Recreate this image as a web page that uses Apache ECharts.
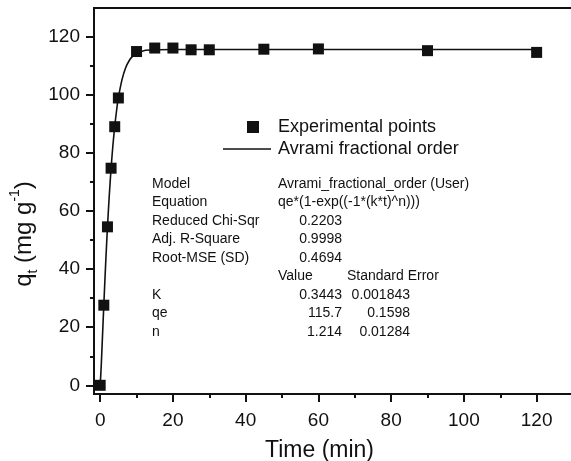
<!DOCTYPE html>
<html>
<head>
<meta charset="utf-8">
<script src="https://cdn.jsdelivr.net/npm/echarts@6/dist/echarts.min.js"></script>
<style>
  html, body { margin: 0; padding: 0; background: #fff; }
  #chart { width: 571px; height: 461px; }
</style>
</head>
<body>
<div id="chart"></div>
<script>
// experimental points
var timeData = [0, 1, 2, 3, 4, 5, 10, 15, 20, 25, 30, 45, 60, 90, 120];
var qtData = [0, 27.6, 54.6, 74.8, 89.1, 99.0, 115.0, 116.2, 116.2, 115.6, 115.6, 115.8, 115.9, 115.3, 114.7];

// fitted curve
var fitTime = [0, 0.25, 0.5, 1, 1.5, 2, 2.5, 3, 3.5, 4, 4.5, 5, 6, 7, 8, 9, 10, 12, 15, 20, 30, 60, 90, 120];
var fitQt = [0, 5.7, 12.9, 27.7, 41.8, 54.4, 65.4, 74.8, 82.7, 89.2, 94.6, 99.0, 105.3, 109.4, 111.9, 113.5, 114.4, 115.3, 115.6, 115.7, 115.7, 115.7, 115.7, 115.7];

var xMajor = [0, 20, 40, 60, 80, 100, 120];
var xMinor = [10, 30, 50, 70, 90, 110];
var yMajor = [0, 20, 40, 60, 80, 100, 120];
var yMinor = [10, 30, 50, 70, 90, 110];

// fit report
var statNames = ['Model', 'Equation', 'Reduced Chi-Sqr', 'Adj. R-Square', 'Root-MSE (SD)', '', 'K', 'qe', 'n'];
var statText = ['Avrami_fractional_order (User)', 'qe*(1-exp((-1*(k*t)^n)))', '', '', '', 'Value', '', '', ''];
var statValues = ['', '', '0.2203', '0.9998', '0.4694', '', '0.3443', '115.7', '1.214'];
var statErrors = ['', '', '', '', '', 'Standard Error', '0.001843', '0.1598', '0.01284'];

var font = 'Liberation Sans, Arial, sans-serif';
var ink = '#111';

var fitPoints = fitTime.map(function (t, i) { return [t, fitQt[i]]; });
var expPoints = timeData.map(function (t, i) { return [t, qtData[i]]; });

var graphics = [];
var rowTop = 184, rowStep = 18.5;
for (var i = 0; i < statNames.length; i++) {
  var y = rowTop + i * rowStep;
  var base = { fontSize: 14, fontFamily: font, fill: ink, verticalAlign: 'middle' };
  if (statNames[i]) graphics.push({ type: 'text', x: 152, y: y, style: Object.assign({ text: statNames[i], align: 'left' }, base) });
  if (statText[i]) graphics.push({ type: 'text', x: 278, y: y, style: Object.assign({ text: statText[i], align: 'left' }, base) });
  if (statValues[i]) graphics.push({ type: 'text', x: 342, y: y, style: Object.assign({ text: statValues[i], align: 'right' }, base) });
  if (statErrors[i]) {
    var left = statErrors[i] === 'Standard Error';
    graphics.push({ type: 'text', x: left ? 347 : 410, y: y, style: Object.assign({ text: statErrors[i], align: left ? 'left' : 'right' }, base) });
  }
}
// y axis title
graphics.push({
  type: 'text', x: 24, y: 234, rotation: Math.PI / 2,
  style: {
    text: '{a|q}{s|t}{a| (mg g}{p|-1}{a|)}',
    align: 'center', verticalAlign: 'middle',
    rich: {
      a: { fontSize: 24, fontFamily: font, fill: ink, lineHeight: 32 },
      s: { fontSize: 14, fontFamily: font, fill: ink, lineHeight: 32, verticalAlign: 'bottom' },
      p: { fontSize: 14, fontFamily: font, fill: ink, lineHeight: 32, verticalAlign: 'top' }
    }
  }
});

var chart = echarts.init(document.getElementById('chart'));
chart.setOption({
  animation: false,
  backgroundColor: '#fff',
  textStyle: { fontFamily: font, color: ink },
  grid: {
    left: 94, top: 8, right: -2, bottom: 67,
    outerBoundsMode: 'none', containLabel: false,
    show: true, borderColor: ink, borderWidth: 2
  },
  legend: [{
    data: [{ name: 'Experimental points', icon: 'rect' }],
    left: 242, top: 113, itemWidth: 12, itemHeight: 12,
    textStyle: { fontSize: 18, fontFamily: font, color: ink, padding: [0, 0, 0, 14] }
  }, {
    data: [{ name: 'Avrami fractional order', icon: 'rect' }],
    left: 218, top: 135, itemWidth: 48, itemHeight: 1.6,
    textStyle: { fontSize: 18, fontFamily: font, color: ink, padding: [0, 0, 0, 2] }
  }],
  xAxis: [{
    type: 'value', min: -1.7, max: 130,
    name: 'Time (min)', nameLocation: 'middle', nameGap: 45,
    nameTextStyle: { fontSize: 23, fontFamily: font, color: ink, padding: [0, 28, 0, 0] },
    axisLine: { onZero: false, lineStyle: { color: ink, width: 2 } },
    axisTick: { customValues: xMajor, length: 8, lineStyle: { color: ink, width: 2 } },
    axisLabel: { customValues: xMajor, fontSize: 19, margin: 17, color: ink, fontFamily: font },
    splitLine: { show: false }
  }, {
    type: 'value', min: -1.7, max: 130, position: 'bottom',
    axisLine: { show: false, onZero: false },
    axisTick: { customValues: xMinor, length: 4, lineStyle: { color: ink, width: 2 } },
    axisLabel: { show: false },
    splitLine: { show: false }
  }],
  yAxis: [{
    type: 'value', min: -3, max: 130,
    axisLine: { onZero: false, lineStyle: { color: ink, width: 2 } },
    axisTick: { customValues: yMajor, length: 8, lineStyle: { color: ink, width: 2 } },
    axisLabel: { customValues: yMajor, fontSize: 19, margin: 14, color: ink, fontFamily: font },
    splitLine: { show: false }
  }, {
    type: 'value', min: -3, max: 130, position: 'left',
    axisLine: { show: false, onZero: false },
    axisTick: { customValues: yMinor, length: 4, lineStyle: { color: ink, width: 2 } },
    axisLabel: { show: false },
    splitLine: { show: false }
  }],
  series: [{
    name: 'Avrami fractional order',
    type: 'line',
    data: fitPoints,
    smooth: 0.3,
    symbol: 'none',
    lineStyle: { color: ink, width: 1.6 },
    itemStyle: { color: ink },
    z: 2
  }, {
    name: 'Experimental points',
    type: 'scatter',
    data: expPoints,
    symbol: 'rect',
    symbolSize: 11,
    itemStyle: { color: ink, opacity: 1 },
    z: 3
  }],
  graphic: graphics
});
</script>
</body>
</html>
